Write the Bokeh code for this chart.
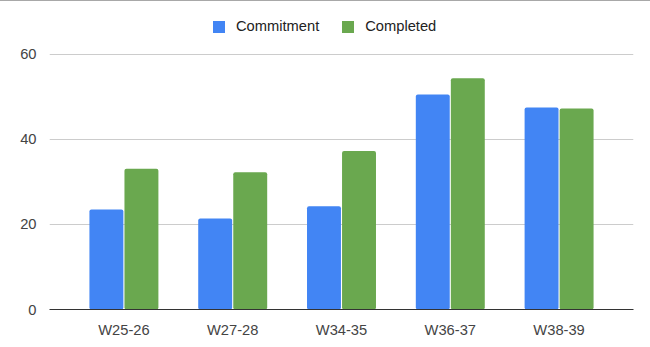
from bokeh.plotting import figure
from bokeh.models import ColumnDataSource, Range1d, FixedTicker, Legend, LegendItem
from bokeh.transform import dodge
from bokeh.embed import file_html
from bokeh.resources import INLINE

categories = ["W25-26", "W27-28", "W34-35", "W36-37", "W38-39"]
commitment = [23.5, 21.4, 24.3, 50.6, 47.5]
completed = [33.1, 32.3, 37.3, 54.4, 47.3]
y_ticks = [0, 20, 40, 60]

BLUE = "#4285F4"
GREEN = "#6AA84F"
FONT = "Liberation Sans"

src = ColumnDataSource(dict(
    x=list(range(len(categories))),
    commitment=commitment,
    completed=completed,
))

p = figure(width=650, height=346, output_backend="svg", toolbar_location=None,
           x_range=Range1d(-0.684, 4.684), y_range=Range1d(0, 72.45),
           min_border_left=49, min_border_right=17, min_border_top=0, min_border_bottom=38)
p.styles = {"border-top": "1px solid #a8a8a8"}
p.outline_line_color = None
p.background_fill_color = "white"
p.border_fill_color = "white"

r1 = p.vbar(x=dodge("x", -0.161, range=p.x_range), top="commitment", width=0.312,
            source=src, fill_color=BLUE, line_color=None, border_radius=2)
r2 = p.vbar(x=dodge("x", 0.161, range=p.x_range), top="completed", width=0.312,
            source=src, fill_color=GREEN, line_color=None, border_radius=2)

# x axis
xa = p.xaxis[0]
xa.ticker = FixedTicker(ticks=list(range(len(categories))))
xa.major_label_overrides = {i: c for i, c in enumerate(categories)}
xa.axis_line_color = "#333333"
xa.axis_line_width = 1
xa.major_tick_line_color = None
xa.minor_tick_line_color = None
xa.major_label_text_font = FONT
xa.major_label_text_font_size = "14.7px"
xa.major_label_text_color = "#444444"
xa.major_label_standoff = 6

# y axis
ya = p.yaxis[0]
ya.ticker = FixedTicker(ticks=y_ticks)
ya.axis_line_color = None
ya.major_tick_line_color = None
ya.minor_tick_line_color = None
ya.major_label_text_font = FONT
ya.major_label_text_font_size = "14.7px"
ya.major_label_text_color = "#444444"
ya.major_label_standoff = 7

p.xgrid.grid_line_color = None
p.ygrid.ticker = FixedTicker(ticks=y_ticks)
p.ygrid.grid_line_color = "#cccccc"
p.ygrid.grid_line_width = 1

legend = Legend(items=[LegendItem(label="Commitment", renderers=[r1]),
                       LegendItem(label="Completed", renderers=[r2])],
                orientation="horizontal", location=(162, 275),
                padding=0, margin=0, spacing=21,
                glyph_width=15, glyph_height=15, label_height=15,
                label_standoff=10, border_line_color=None,
                background_fill_alpha=0,
                label_text_font=FONT, label_text_font_size="14.7px",
                label_text_color="#222222")
p.add_layout(legend)

open("out.html", "w").write(file_html(p, INLINE))
